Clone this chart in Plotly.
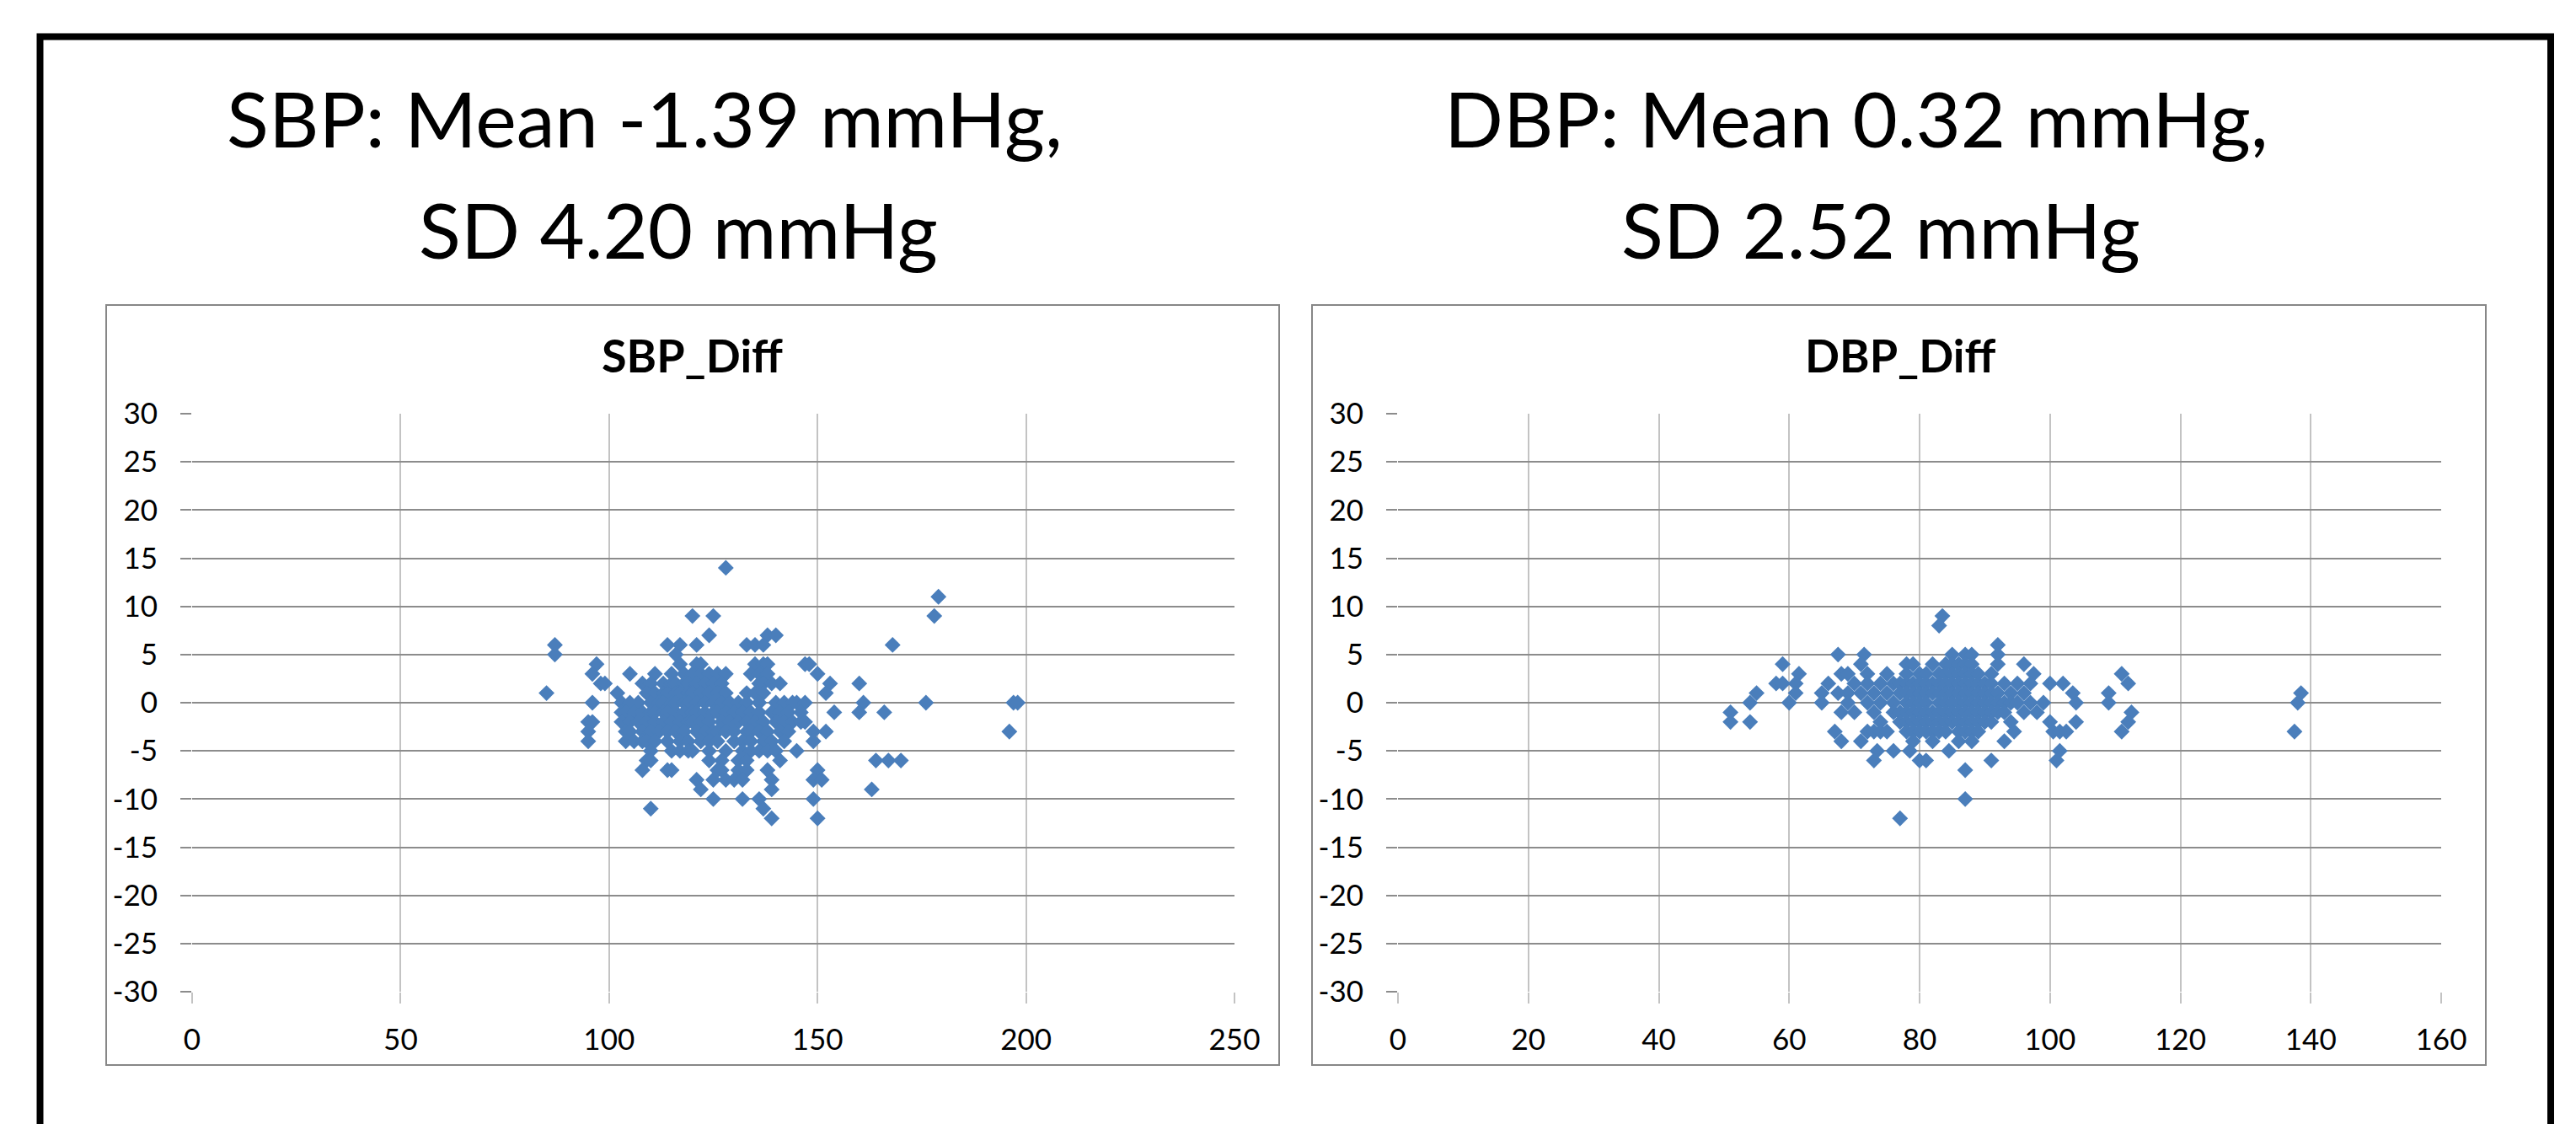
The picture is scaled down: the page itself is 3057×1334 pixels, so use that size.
import plotly.graph_objects as go

W, H = 3057, 1334

# ---------------- data ----------------
# SBP: difference levels and the x-values (mean SBP) of the points at each level
sbp_diff_levels = [14, 11, 9, 7, 6, 5, 4, 3, 2, 1, 0, -1, -2, -3, -4, -5, -6, -7, -8, -9, -10, -11, -12]
sbp_mean_by_level = [
    [128],
    [179],
    [120, 125, 178],
    [124, 138, 140],
    [87, 114, 117, 121, 133, 135, 137, 168],
    [87, 116],
    [97, 117, 121, 122, 135, 137, 138, 147, 148],
    [96, 105, 111, 115, 118, 120, 122, 124, 126, 128, 134, 136, 138, 150],
    [98, 99, 108, 110, 113, 115, 116, 118, 119, 121, 123, 125, 127, 136, 137, 139, 141, 153, 160],
    [85, 102, 109, 111, 113, 114, 116, 117, 119, 120, 122, 124, 126, 128, 133, 135, 137, 152],
    [96, 103, 105, 107, 110, 112, 113, 115, 116, 118, 119, 121, 123, 125, 127, 129, 131, 133, 136,
     140, 142, 144, 145, 147, 161, 176, 197, 198],
    [103, 104, 106, 108, 110, 111, 113, 114, 116, 118, 120, 121, 123, 125, 126, 128, 130, 132, 134,
     136, 139, 141, 143, 146, 154, 160, 166],
    [95, 96, 103, 105, 107, 109, 111, 113, 115, 117, 119, 120, 122, 124, 127, 129, 131, 133, 135,
     137, 140, 142, 144, 146, 147],
    [95, 104, 105, 108, 110, 112, 114, 116, 118, 121, 123, 125, 126, 128, 130, 133, 134, 136, 138,
     141, 143, 149, 152, 196],
    [95, 104, 106, 108, 109, 111, 114, 117, 119, 122, 124, 126, 130, 132, 134, 137, 139, 142, 149],
    [110, 115, 117, 119, 120, 124, 128, 132, 134, 136, 138, 140, 145],
    [109, 110, 124, 127, 131, 133, 141, 164, 167, 170],
    [108, 114, 115, 126, 127, 131, 133, 138, 150],
    [121, 125, 128, 130, 132, 139, 149, 151],
    [122, 139, 163],
    [125, 132, 136, 149],
    [110, 137],
    [139, 150],
]

# DBP: difference levels and the x-values (mean DBP) of the points at each level
dbp_diff_levels = [9, 8, 6, 5, 4, 3, 2, 1, 0, -1, -2, -3, -4, -5, -6, -7, -10, -12]
dbp_mean_by_level = [
    [83.5],
    [83],
    [92],
    [67.5, 71.5, 85, 87, 88, 92],
    [59, 71, 78, 79, 82, 84, 85, 86, 87, 88, 92, 96],
    [61.5, 68, 69, 72, 75, 78, 80, 81, 83, 84, 85, 86, 87, 88, 89, 91, 97.5, 111],
    [58, 59, 61, 66, 70, 72, 74, 76, 77, 78, 79, 80, 81, 82, 83, 84, 85, 86, 87, 88, 89, 90, 91,
     93, 95, 97, 100, 102, 112],
    [55, 61, 65, 67.5, 69, 71, 73, 75, 77, 78, 79, 80, 81, 82, 83, 84, 85, 86, 87, 88, 89, 90, 91,
     92, 94, 96, 103.5, 109, 138.5],
    [54, 60, 65, 69, 72, 74, 76, 78, 79, 80, 81, 83, 84, 85, 86, 87, 88, 89, 90, 91, 92, 93, 94,
     95, 97, 99, 104, 109, 138],
    [51, 68, 70, 73, 76, 77, 78, 79, 80, 81, 82, 83, 84, 85, 86, 87, 88, 89, 90, 91, 92, 93, 96,
     98, 112.5],
    [51, 54, 74, 77, 78, 79, 80, 81, 82, 83, 84, 85, 86, 87, 88, 89, 90, 91, 94, 100, 104, 112],
    [67, 72, 73, 74, 75, 78, 79, 80, 81, 82, 83, 84, 86, 87, 88, 89, 94.5, 100.5, 101.5, 102.5,
     111, 137.5],
    [68, 71, 79, 82, 86, 88, 93],
    [73.5, 76, 78.5, 84.5, 101.5],
    [73, 80, 81, 91, 101],
    [87],
    [87],
    [77],
]

sbp_x_ticks = [0, 50, 100, 150, 200, 250]
dbp_x_ticks = [0, 20, 40, 60, 80, 100, 120, 140, 160]
y_ticks = [30, 25, 20, 15, 10, 5, 0, -5, -10, -15, -20, -25, -30]
y_tick_labels = ["30", "25", "20", "15", "10", "5", "0", "-5", "-10", "-15", "-20", "-25", "-30"]

titles_left = ["SBP: Mean -1.39 mmHg,", "SD 4.20 mmHg"]
titles_right = ["DBP: Mean 0.32 mmHg,", "SD 2.52 mmHg"]
chart_titles = ["SBP_Diff", "DBP_Diff"]


def flatten(levels, groups):
    xs, ys = [], []
    for lv, g in zip(levels, groups):
        for v in g:
            xs.append(v)
            ys.append(lv)
    return xs, ys


sbp_x, sbp_y = flatten(sbp_diff_levels, sbp_mean_by_level)
dbp_x, dbp_y = flatten(dbp_diff_levels, dbp_mean_by_level)


# ---------------- helpers (pixel -> paper fraction) ----------------
def px(x):
    return x / W


def py(y):
    return 1 - y / H


FONT = "Lato"
BLUE = "#4a7ebb"
HGRID = "#8c8c8c"
VGRID = "#c3c3c3"

fig = go.Figure()
marker = dict(symbol="diamond", size=14.5, color=BLUE, line=dict(width=0))
fig.add_trace(go.Scatter(x=sbp_x, y=sbp_y, mode="markers", marker=marker,
                         xaxis="x", yaxis="y", showlegend=False))
fig.add_trace(go.Scatter(x=dbp_x, y=dbp_y, mode="markers", marker=marker,
                         xaxis="x2", yaxis="y2", showlegend=False))

ydom = [py(1177), py(491)]
tickfont = dict(family=FONT, size=35, color="black")

xcommon = dict(showgrid=True, gridcolor=VGRID, gridwidth=2, zeroline=False, showline=False,
               ticks="outside", ticklen=13, tickwidth=2, tickcolor=VGRID, automargin=False,
               tickfont=tickfont, ticklabelstandoff=13, fixedrange=True)
ycommon = dict(range=[-30, 30], tickvals=y_ticks, ticktext=y_tick_labels, showgrid=True,
               gridcolor=HGRID, gridwidth=2, zeroline=False, showline=False, ticks="outside",
               ticklen=13, tickwidth=2, tickcolor=HGRID, tickfont=tickfont,
               ticklabelstandoff=20, domain=ydom, automargin=False, fixedrange=True)

fig.update_layout(
    width=W, height=H,
    margin=dict(l=0, r=0, t=0, b=0, pad=0, autoexpand=False),
    paper_bgcolor="white", plot_bgcolor="white",
    xaxis=dict(domain=[px(228), px(1465)], range=[0, 250], tickvals=sbp_x_ticks,
               ticktext=[str(v) for v in sbp_x_ticks], anchor="y", **xcommon),
    yaxis=dict(anchor="x", **ycommon),
    xaxis2=dict(domain=[px(1659), px(2897)], range=[0, 160], tickvals=dbp_x_ticks,
                ticktext=[str(v) for v in dbp_x_ticks], anchor="y2", **xcommon),
    yaxis2=dict(anchor="x2", **ycommon),
)

shapes = [
    # outer black frame (its bottom edge lies below the visible area)
    dict(type="rect", xref="paper", yref="paper", x0=px(47.5), x1=px(3027), y0=-0.3, y1=py(43.5),
         line=dict(color="black", width=8), fillcolor="rgba(0,0,0,0)", layer="above"),
    # chart boxes
    dict(type="rect", xref="paper", yref="paper", x0=px(126), x1=px(1518), y0=py(1264), y1=py(362),
         line=dict(color="#878787", width=2), fillcolor="rgba(0,0,0,0)", layer="below"),
    dict(type="rect", xref="paper", yref="paper", x0=px(1557), x1=px(2950), y0=py(1264), y1=py(362),
         line=dict(color="#878787", width=2), fillcolor="rgba(0,0,0,0)", layer="below"),
]
fig.update_layout(shapes=shapes)

ann = []
big = dict(family=FONT, size=92, color="black")
for txt, cx, cy in [(titles_left[0], 765, 140), (titles_left[1], 805, 271),
                    (titles_right[0], 2203, 140), (titles_right[1], 2232, 271)]:
    ann.append(dict(text=txt, x=px(cx), y=py(cy), xref="paper", yref="paper",
                    xanchor="center", yanchor="middle", showarrow=False, font=big))
small = dict(family=FONT, size=54, color="black")
for txt, cx in [(chart_titles[0], 821), (chart_titles[1], 2255)]:
    ann.append(dict(text="<b>%s</b>" % txt, x=px(cx), y=py(421), xref="paper", yref="paper",
                    xanchor="center", yanchor="middle", showarrow=False, font=small))
fig.update_layout(annotations=ann)

fig.write_html("out.html", post_script="document.body.style.margin='0';",
               config={"displayModeBar": False})
